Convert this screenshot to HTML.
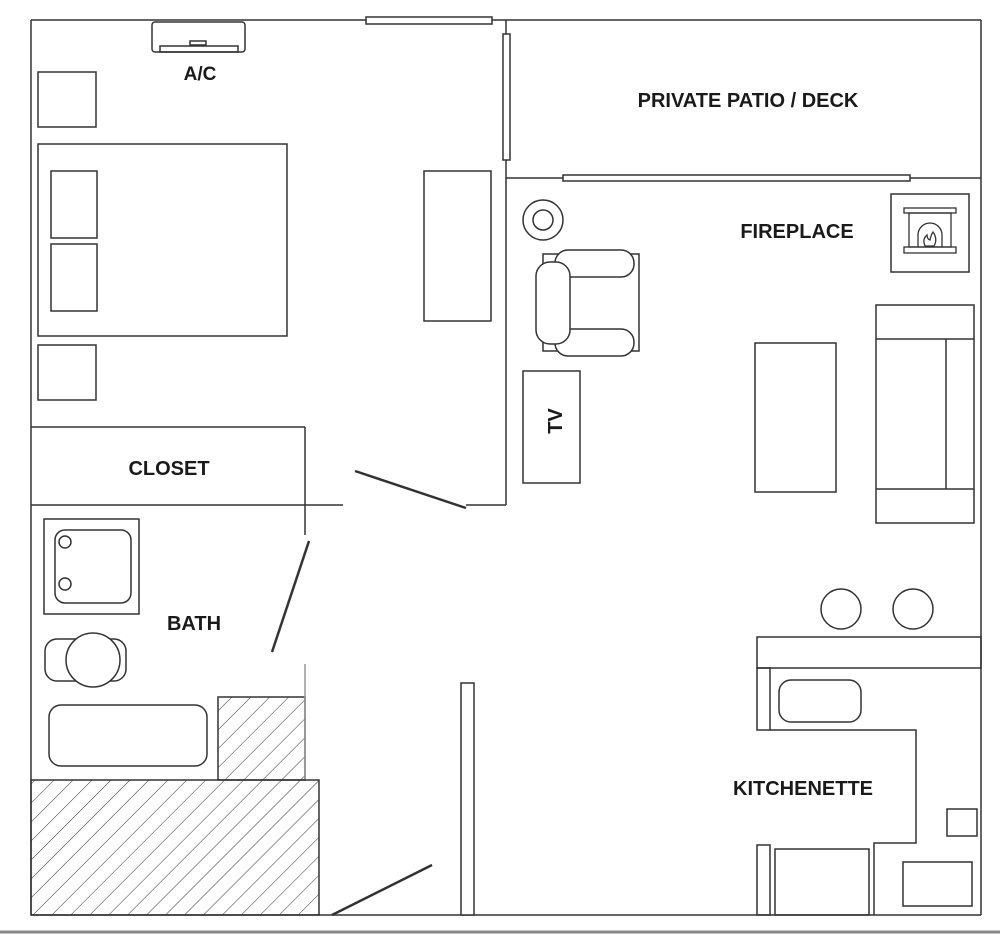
<!DOCTYPE html>
<html><head><style>
html,body{margin:0;padding:0;background:#fff;width:1000px;height:934px;overflow:hidden}
svg{display:block}
text{font-family:"Liberation Sans",sans-serif;font-weight:bold;fill:#1a1a1a}
</style></head><body>
<svg width="1000" height="934" viewBox="0 0 1000 934" xmlns="http://www.w3.org/2000/svg">
<defs>
<pattern id="h" patternUnits="userSpaceOnUse" width="13.4" height="13.4" patternTransform="rotate(45)">
<line x1="0" y1="0" x2="0" y2="13.4" stroke="#333" stroke-width="1"/>
</pattern>
</defs>
<g fill="none" stroke="#333" stroke-width="1.5">
<line x1="31" y1="20" x2="981" y2="20"/>
<line x1="31" y1="20" x2="31" y2="915"/>
<line x1="981" y1="20" x2="981" y2="915"/>
<line x1="31" y1="915" x2="981" y2="915"/>
<line x1="506" y1="20" x2="506" y2="505"/>
<line x1="506" y1="178" x2="981" y2="178"/>
<rect x="366" y="17" width="126" height="7" fill="#fff"/>
<rect x="503" y="34" width="7" height="126" fill="#fff"/>
<rect x="563" y="175" width="347" height="6" fill="#fff"/>
<rect x="152" y="22" width="93" height="30" rx="3" fill="#fff"/>
<rect x="160" y="46" width="78" height="6"/>
<rect x="190" y="41" width="16" height="4"/>
<rect x="38" y="72" width="58" height="55"/>
<rect x="38" y="144" width="249" height="192"/>
<rect x="51" y="171" width="46" height="67"/>
<rect x="51" y="244" width="46" height="67"/>
<rect x="38" y="345" width="58" height="55"/>
<rect x="424" y="171" width="67" height="150"/>
<line x1="31" y1="427" x2="305" y2="427"/>
<line x1="305" y1="427" x2="305" y2="535"/>
<line x1="31" y1="505" x2="343" y2="505"/>
<line x1="466" y1="505" x2="506" y2="505"/>
<line x1="355" y1="471" x2="466" y2="508" stroke-width="2.5"/>
<rect x="44" y="519" width="95" height="95"/>
<rect x="55" y="530" width="76" height="73" rx="10"/>
<circle cx="65" cy="542" r="6"/>
<circle cx="65" cy="584" r="6"/>
<rect x="45" y="639" width="81" height="42" rx="12"/>
<circle cx="93" cy="660" r="27" fill="#fff"/>
<rect x="49" y="705" width="158" height="61" rx="12"/>
<rect x="218" y="697" width="87" height="83" fill="url(#h)"/>
<line x1="305" y1="664" x2="305" y2="780" stroke="#999"/>
<rect x="31" y="780" width="288" height="135" fill="url(#h)"/>
<line x1="309" y1="541" x2="272" y2="652" stroke-width="2.5"/>
<line x1="332" y1="915" x2="432" y2="865" stroke-width="2.5"/>
<rect x="461" y="683" width="13" height="232" fill="#fff"/>
<circle cx="543" cy="220" r="20"/>
<circle cx="543" cy="220" r="10"/>
<rect x="543" y="254" width="96" height="97"/>
<rect x="555" y="250" width="79" height="27" rx="13" fill="#fff"/>
<rect x="555" y="329" width="79" height="27" rx="13" fill="#fff"/>
<rect x="536" y="262" width="34" height="82" rx="14" fill="#fff"/>
<rect x="523" y="371" width="57" height="112"/>
<rect x="891" y="194" width="78" height="78"/>
<g stroke-width="1.3">
<rect x="904" y="208" width="52" height="5"/>
<rect x="909" y="213" width="42" height="34"/>
<path d="M918 247 V235 a12 12 0 0 1 24 0 V247"/>
<path d="M925 246 q-3 -7 2 -11 q0 4 3 5 q1 -5 3 -8 q5 7 1 14 z"/>
<rect x="904" y="247" width="52" height="6"/>
</g>
<rect x="755" y="343" width="81" height="149"/>
<rect x="876" y="305" width="98" height="218"/>
<line x1="876" y1="339" x2="974" y2="339"/>
<line x1="876" y1="489" x2="974" y2="489"/>
<line x1="946" y1="339" x2="946" y2="489"/>
<circle cx="841" cy="609" r="20"/>
<circle cx="913" cy="609" r="20"/>
<rect x="757" y="637" width="224" height="31"/>
<rect x="757" y="668" width="13" height="62"/>
<rect x="779" y="680" width="82" height="42" rx="12"/>
<polyline points="770,730 916,730 916,843 874,843 874,915"/>
<rect x="947" y="809" width="30" height="27"/>
<rect x="903" y="862" width="69" height="44"/>
<rect x="757" y="845" width="13" height="70"/>
<rect x="775" y="849" width="94" height="66"/>
</g>
<line x1="0" y1="932" x2="1000" y2="932" stroke="#888" stroke-width="3"/>
<text x="200" y="80" font-size="19" text-anchor="middle">A/C</text>
<text x="748" y="107" font-size="20" text-anchor="middle">PRIVATE PATIO / DECK</text>
<text x="797" y="238" font-size="20" text-anchor="middle">FIREPLACE</text>
<text x="169" y="475" font-size="20" text-anchor="middle">CLOSET</text>
<text x="194" y="630" font-size="20" text-anchor="middle">BATH</text>
<text x="803" y="795" font-size="20" text-anchor="middle">KITCHENETTE</text>
<text x="0" y="0" font-size="20" text-anchor="middle" transform="translate(562,421) rotate(-90)">TV</text>
</svg>
</body></html>
